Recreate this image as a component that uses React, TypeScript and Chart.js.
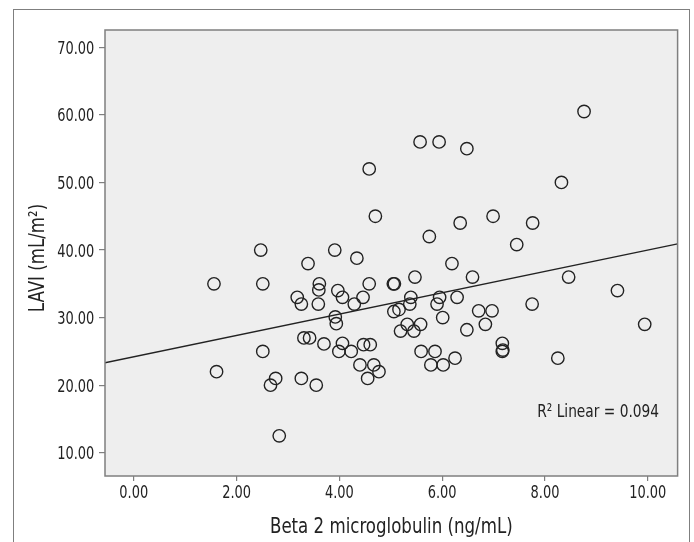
import React, { useEffect, useRef } from "react";
import { Chart, registerables } from "chart.js";

Chart.register(...registerables);

// Beta 2 microglobulin (ng/mL)
const beta2: number[] = [
  4.58, 4.70, 2.47, 3.91, 3.39, 4.34, 1.56, 2.51, 3.61, 4.58,
  5.05, 5.07, 8.76, 5.57, 5.94, 6.48, 8.32, 6.99, 6.35, 7.76,
  5.75, 7.45, 6.19, 5.47, 6.59, 8.46, 9.41, 3.97, 3.60, 3.18,
  4.06, 4.46, 3.26, 3.59, 4.29, 5.06, 5.16, 3.92, 3.94, 5.19,
  3.31, 3.42, 3.70, 4.06, 4.47, 4.60, 3.99, 4.23, 2.51, 1.61,
  4.40, 4.67, 4.77, 4.55, 2.76, 2.66, 3.26, 3.55, 2.83, 5.39,
  5.95, 6.29, 5.37, 5.90, 7.75, 6.71, 6.97, 6.01, 5.32, 5.58,
  6.84, 9.94, 5.45, 6.48, 7.17, 7.17, 7.18, 5.59, 5.86, 5.78,
  6.02, 6.25, 8.25,
];

// LAVI (mL/m²)
const lavi: number[] = [
  52.0, 45.0, 40.0, 40.0, 38.0, 38.8, 35.0, 35.0, 35.0, 35.0,
  35.0, 35.0, 60.5, 56.0, 56.0, 55.0, 50.0, 45.0, 44.0, 44.0,
  42.0, 40.8, 38.0, 36.0, 36.0, 36.0, 34.0, 34.0, 34.1, 33.0,
  33.0, 33.0, 32.0, 32.0, 32.0, 30.9, 31.2, 30.1, 29.1, 28.0,
  27.0, 27.0, 26.1, 26.2, 26.0, 26.0, 25.0, 25.0, 25.0, 22.0,
  23.0, 23.0, 22.0, 21.0, 21.0, 20.0, 21.0, 20.0, 12.5, 33.0,
  33.0, 33.0, 32.0, 32.0, 32.0, 31.0, 31.0, 30.0, 29.0, 29.0,
  29.0, 29.0, 28.0, 28.2, 26.2, 25.0, 25.2, 25.0, 25.0, 23.0,
  23.0, 24.0, 24.0,
];

const xTickValues: number[] = [0, 2, 4, 6, 8, 10];
const yTickValues: number[] = [10, 20, 30, 40, 50, 60, 70];

// Linear fit (R² Linear = 0.094)
const fitIntercept = 24.2;
const fitSlope = 1.58;
const r2Label = "R\u00B2 Linear = 0.094";

const xTitle = "Beta 2 microglobulin (ng/mL)";
const yTitle = "LAVI (mL/m\u00B2)";

const X_MIN = -0.56;
const X_MAX = 10.58;
const Y_MIN = 6.56;
const Y_MAX = 72.56;

const FONT = "'Liberation Sans Narrow', 'Arial Narrow', 'DejaVu Sans Condensed', sans-serif";
const INK = "#222222";
const FRAME = "#7f7f7f";

const plotPlugin = {
  id: "plotDecor",
  beforeDatasetsDraw(chart: any) {
    const { ctx, chartArea: a } = chart;
    ctx.save();
    ctx.fillStyle = "#eeeeee";
    ctx.fillRect(a.left, a.top, a.right - a.left, a.bottom - a.top);
    ctx.restore();
  },
  afterDraw(chart: any) {
    const { ctx, chartArea: a, scales } = chart;
    ctx.save();
    ctx.strokeStyle = FRAME;
    ctx.lineWidth = 1.5;
    ctx.strokeRect(a.left, a.top, a.right - a.left, a.bottom - a.top);
    ctx.restore();

    const drawText = (text: string, x: number, y: number, size: number, sx: number, align: CanvasTextAlign, rot = 0) => {
      ctx.save();
      ctx.translate(x, y);
      if (rot) ctx.rotate(rot);
      ctx.scale(sx, 1);
      ctx.font = `${size}px ${FONT}`;
      ctx.textAlign = align;
      ctx.textBaseline = "alphabetic";
      ctx.fillStyle = INK;
      ctx.fillText(text, 0, 0);
      ctx.restore();
    };

    const xs = scales.x;
    const ys = scales.y;
    xTickValues.forEach((v) => drawText(v.toFixed(2), xs.getPixelForValue(v), a.bottom + 22, 18, 0.8, "center"));
    yTickValues.forEach((v) => drawText(v.toFixed(2), a.left - 10.7, ys.getPixelForValue(v) + 6.5, 18, 0.8, "right"));
    drawText(xTitle, (a.left + a.right) / 2, a.bottom + 57, 22, 0.84, "center");
    drawText(yTitle, 44, (a.top + a.bottom) / 2 + 5, 22, 0.84, "center", -Math.PI / 2);
    drawText(r2Label, a.right - 18.5, a.bottom - 59, 18, 0.85, "right");
  },
};

export default function App() {
  const canvasRef = useRef<HTMLCanvasElement | null>(null);

  useEffect(() => {
    const canvas = canvasRef.current;
    if (!canvas) return;
    const points = beta2.map((x, i) => ({ x, y: lavi[i] }));
    const fitLine = [
      { x: X_MIN, y: fitIntercept + fitSlope * X_MIN },
      { x: X_MAX, y: fitIntercept + fitSlope * X_MAX },
    ];
    const chart = new Chart(canvas, {
      type: "scatter",
      data: {
        datasets: [
          {
            type: "line",
            data: fitLine,
            borderColor: INK,
            borderWidth: 1.3,
            pointRadius: 0,
            fill: false,
          } as any,
          {
            data: points,
            pointStyle: "circle",
            pointRadius: 6.2,
            pointHoverRadius: 6.2,
            borderColor: INK,
            borderWidth: 1.4,
            backgroundColor: "rgba(0,0,0,0)",
          },
        ],
      },
      options: {
        animation: false,
        responsive: false,
        maintainAspectRatio: false,
        events: [],
        layout: { padding: { left: 0, top: 30, right: 16.4, bottom: 0 } },
        plugins: {
          legend: { display: false },
          tooltip: { enabled: false },
        },
        scales: {
          x: {
            type: "linear",
            min: X_MIN,
            max: X_MAX,
            afterBuildTicks: (s: any) => {
              s.ticks = xTickValues.map((v) => ({ value: v }));
            },
            afterFit: (s: any) => {
              s.height = 66;
            },
            border: { display: false },
            grid: {
              drawOnChartArea: false,
              drawTicks: true,
              tickLength: 5,
              color: FRAME,
              lineWidth: 1.2,
            },
            ticks: { display: false },
            title: { display: false },
          },
          y: {
            type: "linear",
            min: Y_MIN,
            max: Y_MAX,
            afterBuildTicks: (s: any) => {
              s.ticks = yTickValues.map((v) => ({ value: v }));
            },
            afterFit: (s: any) => {
              s.width = 105;
            },
            border: { display: false },
            grid: {
              drawOnChartArea: false,
              drawTicks: true,
              tickLength: 6,
              color: FRAME,
              lineWidth: 1.2,
            },
            ticks: { display: false },
            title: { display: false },
          },
        },
      },
      plugins: [plotPlugin],
    });
    return () => chart.destroy();
  }, []);

  return (
    <div style={{ position: "fixed", left: 0, top: 0, width: 694, height: 542, background: "#ffffff", overflow: "hidden" }}>
      <div
        style={{
          position: "absolute",
          left: 12.5,
          top: 8.5,
          width: 677,
          height: 600,
          border: `1.5px solid ${FRAME}`,
          boxSizing: "border-box",
        }}
      />
      <canvas ref={canvasRef} width={694} height={542} style={{ position: "absolute", left: 0, top: 0, width: 694, height: 542 }} />
    </div>
  );
}
